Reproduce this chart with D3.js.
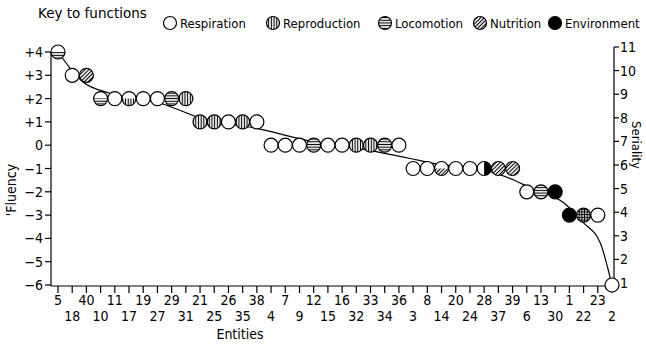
<!DOCTYPE html>
<html>
<head>
<meta charset="utf-8">
<script src="https://cdn.jsdelivr.net/npm/d3@7"></script>
<style>
  body { margin: 0; background: #fff; }
  text { font-family: "DejaVu Sans Condensed", "Liberation Sans Narrow", sans-serif; fill: #000; }
</style>
</head>
<body>
<script>
// entities in the order they sit along the bottom axis
const entities = [5, 18, 40, 10, 11, 17, 19, 27, 29, 31, 21, 25, 26, 35, 38, 4, 7, 9, 12, 15,
                  16, 32, 33, 34, 36, 3, 8, 14, 20, 24, 28, 37, 39, 6, 13, 30, 1, 22, 23, 2];
const fluency = [4, 3, 3, 2, 2, 2, 2, 2, 2, 2, 1, 1, 1, 1, 1, 0, 0, 0, 0, 0,
                 0, 0, 0, 0, 0, -1, -1, -1, -1, -1, -1, -1, -1, -2, -2, -2, -3, -3, -3, -6];
// function key of each entity (R=respiration, P=reproduction, L=locomotion, N=nutrition, E=environment, PL=both)
const functionType = ["L", "R", "N", "L", "R", "P", "R", "R", "L", "P", "P", "P", "R", "P", "R", "R", "R", "R", "L", "R",
                      "R", "P", "P", "L", "R", "R", "R", "N", "R", "R", "E", "N", "N", "R", "L", "E", "E", "PL", "R", "R"];
// part of the circle that is shaded
const fillPart = ["lower", "full", "full", "lower", "full", "lower", "full", "full", "full", "full",
                  "full", "full", "full", "full", "full", "full", "full", "full", "full", "full",
                  "full", "full", "full", "full", "full", "full", "full", "lower", "full", "full",
                  "right", "full", "full", "full", "full", "full", "full", "full", "full", "full"];

const legendNames = ["Respiration", "Reproduction", "Locomotion", "Nutrition", "Environment"];
const legendTypes = ["R", "P", "L", "N", "E"];
const fluencyTicks = [4, 3, 2, 1, 0, -1, -2, -3, -4, -5, -6];
const serialityTicks = [1, 2, 3, 4, 5, 6, 7, 8, 9, 10, 11];

// fitted curve (entity position, fluency)
const curvePos = [0, 0.85, 1.76, 3.66, 7.2, 10.5, 14, 17.5, 20.8, 24.8, 26.4, 30.2, 32, 33.2, 35.6, 37, 38.2, 38.7, 39];
const curveFlu = [4, 3.31, 2.71, 2.23, 1.8, 1.07, 0.72, 0.21, -0.09, -0.57, -0.78, -1.09, -1.47, -1.82, -2.47, -3.33, -4.23, -5.27, -6];

const width = 646, height = 354;
const left = 51, right = 614, bottom = 286;

const svg = d3.select("body").append("svg")
  .attr("width", width)
  .attr("height", height);

const x = d3.scaleLinear().domain([0, entities.length - 1]).range([58, 612]);
const y = d3.scaleLinear().domain([-6, 4]).range([285, 52]);
const y2 = d3.scaleLinear().domain([1, 11]).range([283, 47]);

// hatch patterns
const defs = svg.append("defs");
function hatch(id, angle) {
  const p = defs.append("pattern")
    .attr("id", id)
    .attr("patternUnits", "userSpaceOnUse")
    .attr("width", 2.7).attr("height", 2.7)
    .attr("patternTransform", "rotate(" + angle + ")");
  p.append("line")
    .attr("x1", 1.35).attr("y1", -1).attr("x2", 1.35).attr("y2", 4)
    .attr("stroke", "#000").attr("stroke-width", 1.1);
}
hatch("vert", 0);
hatch("horiz", 90);
hatch("diag", 45);

const fills = { P: ["url(#vert)"], L: ["url(#horiz)"], N: ["url(#diag)"], E: ["#000"], PL: ["url(#vert)", "url(#horiz)"], R: [] };

function shadePath(cx, cy, r, part) {
  if (part == "lower")
    return "M" + (cx - r) + "," + cy + "A" + r + "," + r + " 0 0 0 " + (cx + r) + "," + cy + "Z";
  if (part == "right")
    return "M" + cx + "," + (cy - r) + "A" + r + "," + r + " 0 0 1 " + cx + "," + (cy + r) + "Z";
  return "M" + (cx - r) + "," + cy + "A" + r + "," + r + " 0 1 0 " + (cx + r) + "," + cy +
    "A" + r + "," + r + " 0 1 0 " + (cx - r) + "," + cy + "Z";
}

function marker(g, cx, cy, r, type, part) {
  g.append("circle").attr("cx", cx).attr("cy", cy).attr("r", r).attr("fill", "#fff");
  fills[type].forEach(f => {
    g.append("path").attr("d", shadePath(cx, cy, r, part)).attr("fill", f);
  });
  g.append("circle").attr("cx", cx).attr("cy", cy).attr("r", r)
    .attr("fill", "none").attr("stroke", "#000").attr("stroke-width", 1.2);
}

// left axis (Fluency)
svg.append("line")
  .attr("x1", left).attr("x2", left).attr("y1", y(4)).attr("y2", bottom)
  .attr("stroke", "#000").attr("stroke-width", 1.2);
const lt = svg.append("g").selectAll("g").data(fluencyTicks).enter().append("g");
lt.append("line")
  .attr("x1", left - 6).attr("x2", left).attr("y1", d => y(d)).attr("y2", d => y(d))
  .attr("stroke", "#000").attr("stroke-width", 1.2);
lt.append("text")
  .attr("x", left - 8).attr("y", d => y(d)).attr("dy", "0.36em")
  .attr("text-anchor", "end").style("font-size", "14px")
  .text(d => d > 0 ? "+" + d : d < 0 ? "\u2212" + (-d) : "0");

svg.append("text")
  .attr("transform", "translate(16,190) rotate(-90)")
  .attr("text-anchor", "middle").style("font-size", "14px")
  .text("'Fluency");

// right axis (Seriality)
svg.append("line")
  .attr("x1", right).attr("x2", right).attr("y1", y2(11)).attr("y2", y2(1))
  .attr("stroke", "#000").attr("stroke-width", 1.2);
const rt = svg.append("g").selectAll("g").data(serialityTicks).enter().append("g");
rt.append("line")
  .attr("x1", right).attr("x2", right + 5).attr("y1", d => y2(d)).attr("y2", d => y2(d))
  .attr("stroke", "#000").attr("stroke-width", 1.2);
rt.append("text")
  .attr("x", right + 6).attr("y", d => y2(d)).attr("dy", "0.36em")
  .style("font-size", "14px")
  .text(d => d);

svg.append("text")
  .attr("transform", "translate(632,145) rotate(90)")
  .attr("text-anchor", "middle").style("font-size", "13px")
  .text("Seriality");

// bottom axis (Entities)
svg.append("line")
  .attr("x1", left).attr("x2", x(entities.length - 1)).attr("y1", bottom).attr("y2", bottom)
  .attr("stroke", "#000").attr("stroke-width", 1.2);
const bt = svg.append("g").selectAll("g").data(entities).enter().append("g");
bt.append("line")
  .attr("x1", (d, i) => x(i)).attr("x2", (d, i) => x(i))
  .attr("y1", bottom).attr("y2", bottom + 7)
  .attr("stroke", "#000").attr("stroke-width", 1.2);
bt.append("text")
  .attr("x", (d, i) => x(i))
  .attr("y", (d, i) => i % 2 == 0 ? 305 : 321)
  .attr("text-anchor", "middle").style("font-size", "14px")
  .text(d => d);

svg.append("text")
  .attr("x", 240).attr("y", 339)
  .attr("text-anchor", "middle").style("font-size", "14px")
  .text("Entities");

// fitted curve
const line = d3.line()
  .x(d => x(d[0]))
  .y(d => y(d[1]))
  .curve(d3.curveMonotoneX);
svg.append("path")
  .datum(curvePos.map((p, i) => [p, curveFlu[i]]))
  .attr("d", line)
  .attr("fill", "none").attr("stroke", "#000").attr("stroke-width", 1.2);

// markers
const dots = svg.append("g");
entities.forEach((e, i) => {
  marker(dots, x(i), y(fluency[i]), 7, functionType[i], fillPart[i]);
});

// key
svg.append("text")
  .attr("x", 38).attr("y", 18)
  .style("font-family", "'DejaVu Sans', sans-serif")
  .style("font-size", "13.5px")
  .text("Key to functions");

const keyX = [170, 273, 385, 480, 555];
const key = svg.append("g");
legendNames.forEach((name, i) => {
  marker(key, keyX[i], 23, 6.5, legendTypes[i], "full");
  key.append("text")
    .attr("x", keyX[i] + 10).attr("y", 23).attr("dy", "0.36em")
    .style("font-size", "13px")
    .text(name);
});
</script>
</body>
</html>
